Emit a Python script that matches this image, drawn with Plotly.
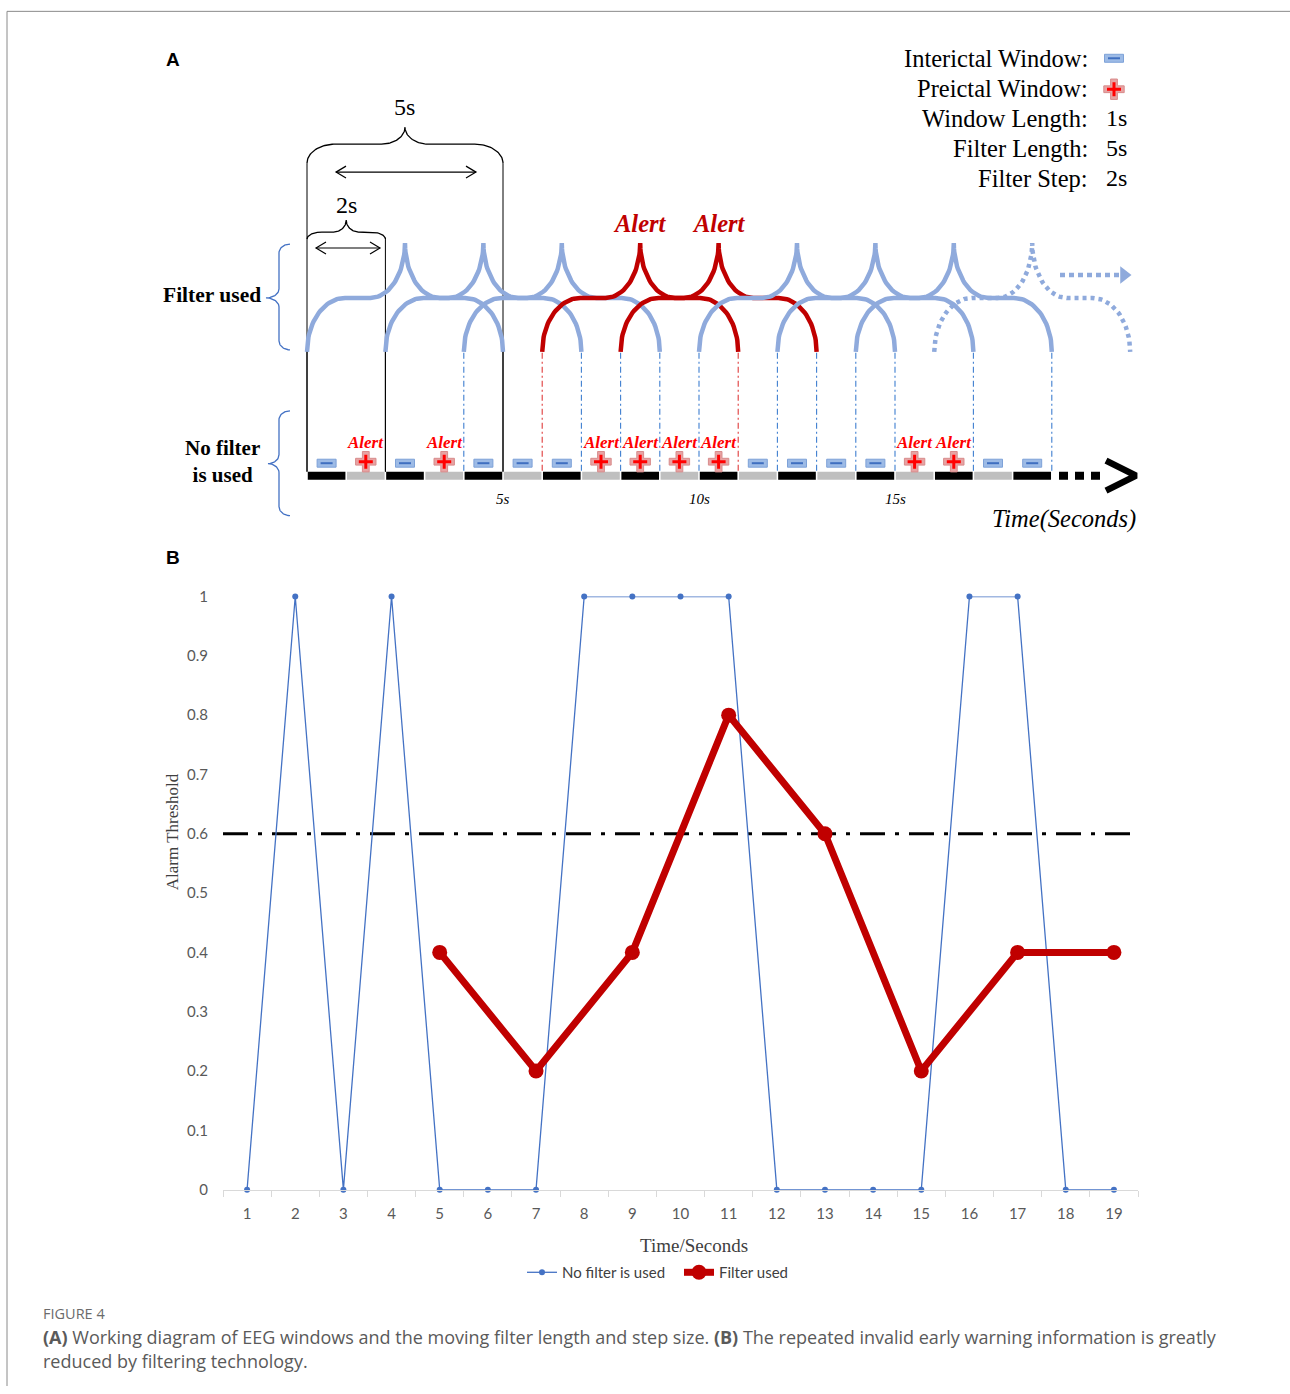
import numpy as np
import plotly.graph_objects as go

# ---------------- data ----------------
seconds = list(range(1, 20))                               # 1 s windows
no_filter = [0, 1, 0, 1, 0, 0, 0, 1, 1, 1, 1, 0, 0, 0, 0, 1, 1, 0, 0]
filter_x = [5, 7, 9, 11, 13, 15, 17, 19]                  # filter end times
filter_vals = [0.4, 0.2, 0.4, 0.8, 0.6, 0.2, 0.4, 0.4]
alarm_threshold = 0.6
y_tick_vals = [0, 0.1, 0.2, 0.3, 0.4, 0.5, 0.6, 0.7, 0.8, 0.9, 1]
y_tick_text = ["0", "0.1", "0.2", "0.3", "0.4", "0.5", "0.6", "0.7", "0.8", "0.9", "1"]
time_marks = [5, 10, 15]
time_mark_text = ["5s", "10s", "15s"]
window_length = 1
filter_length = 5
filter_step = 2
next_filter_end = 21                                       # continuing (dotted) filter
key_labels = ["Interictal Window:", "Preictal Window:", "Window Length:", "Filter Length:", "Filter Step:"]
key_values = ["", "", "1s", "5s", "2s"]

# ---------------- canvas helpers ----------------
W, H = 1290, 1394
X0, PPS = 307.0, 39.2          # pixel of t=0 and pixels per second in panel A
VA, VS = 8.65, 0.9885          # vertical capture compensation (offset, scale)
SERIF = "Liberation Serif"
BLUE_F = "#8FAADC"
RED_F = "#C00000"


def sx(px):
    return (px - X0) / PPS


def pxp(px):
    return px / W


def pyp(py):
    return 1 - ((py - VA) / VS) / H


fig = go.Figure()
shapes = []
annotations = []


def line(xs, ys, color, width, dash=None, sec=True):
    xs = list(xs) if sec else [sx(v) for v in xs]
    fig.add_trace(go.Scatter(x=xs, y=list(ys), mode="lines", xaxis="x2", yaxis="y2",
                             line=dict(color=color, width=width, dash=dash),
                             hoverinfo="skip", showlegend=False))


def hbrace(t0, t1, y_end, y_flat, y_tip, r_arm, r_cusp, n=30):
    tc = (t0 + t1) / 2
    th = np.linspace(0, np.pi / 2, n)
    xa = t0 + r_arm - r_arm * np.cos(th)
    ya = y_end - (y_end - y_flat) * np.sin(th)
    xb = tc - r_cusp + r_cusp * np.sin(th)
    yb = y_tip + (y_flat - y_tip) * np.cos(th)
    lx = np.concatenate([xa, xb])
    ly = np.concatenate([ya, yb])
    rx = (t0 + t1) - lx[::-1]
    ry = ly[::-1]
    return np.concatenate([lx, rx]), np.concatenate([ly, ry])


def vbrace(x_end, x_spine, x_tip, y0, y1, ym, r, n=20):
    th = np.linspace(0, np.pi / 2, n)
    d = x_end - x_spine
    ta_x = x_end - d * np.sin(th); ta_y = y0 + r - r * np.cos(th)
    tu_x = x_tip + (x_spine - x_tip) * np.cos(th); tu_y = ym - r + r * np.sin(th)
    tl_x = x_tip + (x_spine - x_tip) * np.cos(th); tl_y = ym + r - r * np.sin(th)
    bb_x = x_end - d * np.sin(th); bb_y = y1 - r + r * np.cos(th)
    xs = np.concatenate([ta_x, tu_x, tl_x[::-1], bb_x[::-1]])
    ys = np.concatenate([ta_y, tu_y, tl_y[::-1], bb_y[::-1]])
    return [sx(v) for v in xs], ys


def darrow(xa, xb, y, head=10, hh=6, color="black", width=1.2):
    line([xa, xb], [y, y], color, width, sec=False)
    line([xa + head, xa, xa + head], [y - hh, y, y + hh], color, width, sec=False)
    line([xb - head, xb, xb - head], [y - hh, y, y + hh], color, width, sec=False)


def text(px, py, s, size, color="black", family=SERIF, xanchor="center", angle=0):
    annotations.append(dict(x=pxp(px), y=pyp(py), xref="paper", yref="paper", text=s,
                            showarrow=False, xanchor=xanchor, yanchor="middle",
                            font=dict(size=size, color=color, family=family), textangle=angle))


# ---------------- panel A ----------------
# 5s / 2s braces and arrows
bx, by = hbrace(0, filter_length, 162, 143, 126, 0.72, 0.6)
line(bx, by, "black", 1.3)
bx, by = hbrace(0, filter_step, 238, 231, 219, 0.38, 0.32)
line(bx, by, "black", 1.3)
darrow(336, 476, 171)
darrow(316, 380, 247)
text(404, 106, "5s", 24)
text(346, 204, "2s", 24)

# vertical reference lines
line([0, 0], [162, 471], "black", 1)
line([filter_length, filter_length], [162, 471], "black", 1)
line([filter_step, filter_step], [237, 471], "black", 1)

starts = [x - filter_length for x in filter_x]
ends = list(filter_x)
first_alert = next(i for i, v in enumerate(filter_vals) if v >= alarm_threshold)
red_bounds = {starts[first_alert], ends[first_alert]}
for b in sorted(set(starts) | set(ends)):
    if b in (0, filter_step, filter_length):
        line([b, b], [350, 471], "black", 1)
        continue
    col = "#E03C3C" if b in red_bounds else "#3F7FD0"
    line([b, b], [352, 471], col, 1.1, dash="6px,3px,2px,3px")

# filter braces
for xe, v in zip(filter_x, filter_vals):
    col = RED_F if v >= alarm_threshold else BLUE_F
    fx, fy = hbrace(xe - filter_length, xe, 351, 297, 242, 0.97, 0.88)
    line(fx, fy, col, 4.5)
    if v >= alarm_threshold:
        annotations.append(dict(x=xe - filter_length / 2, y=222, xref="x2", yref="y2",
                                text="<b><i>Alert</i></b>", showarrow=False,
                                font=dict(size=24.5, color=RED_F, family=SERIF)))
fx, fy = hbrace(next_filter_end - filter_length, next_filter_end, 351, 297, 242, 0.97, 0.88)
line(fx, fy, BLUE_F, 4.5, dash="4px,4px")
line([sx(1060), sx(1119)], [274, 274], BLUE_F, 4.5, dash="5px,4px")
fig.add_trace(go.Scatter(x=[sx(1124)], y=[274], mode="markers", xaxis="x2", yaxis="y2",
                         marker=dict(symbol="triangle-right", size=15, color=BLUE_F),
                         hoverinfo="skip", showlegend=False))

# timeline
for s in seconds:
    col = "black" if s % 2 == 1 else "#BFBFBF"
    line([s - window_length + 0.02, s - 0.02], [475, 475], col, 8)
line([sx(1059), sx(1104)], [475, 475], "black", 8, dash="9px,7px")
line([sx(1106), sx(1136), sx(1106)], [460, 475, 490], "black", 6.5)

for t, lab in zip(time_marks, time_mark_text):
    annotations.append(dict(x=t, y=498, xref="x2", yref="y2", text="<i>" + lab + "</i>",
                            showarrow=False, font=dict(size=15, color="black", family=SERIF)))
text(1138, 518, "<i>Time(Seconds)</i>", 24.5, xanchor="right")

# window icons


def minus_icon(t, y):
    shapes.append(dict(type="rect", xref="x2", yref="y2", x0=t - 9.5 / PPS, x1=t + 9.5 / PPS,
                       y0=y - 4, y1=y + 4, fillcolor="#9DBBE6", line=dict(color="#7EA2D8", width=1)))
    shapes.append(dict(type="line", xref="x2", yref="y2", x0=t - 6 / PPS, x1=t + 6 / PPS,
                       y0=y, y1=y, line=dict(color="#3F6FC0", width=2)))


plus_x, plus_y = [], []
for s, v in zip(seconds, no_filter):
    c = s - window_length / 2
    if v == 1:
        plus_x.append(c); plus_y.append(461)
        annotations.append(dict(x=c, y=442, xref="x2", yref="y2", text="<b><i>Alert</i></b>",
                                showarrow=False, font=dict(size=17, color="#FF0000", family=SERIF)))
    else:
        minus_icon(c, 462.5)

# key
minus_icon(sx(1114), 57)
plus_x.append(sx(1114)); plus_y.append(88)
fig.add_trace(go.Scatter(x=plus_x, y=plus_y, mode="markers", xaxis="x2", yaxis="y2",
                         marker=dict(symbol="cross", size=17, color="#E7A3A3",
                                     line=dict(color="#D88C8C", width=1)),
                         hoverinfo="skip", showlegend=False))
fig.add_trace(go.Scatter(x=plus_x, y=plus_y, mode="markers", xaxis="x2", yaxis="y2",
                         marker=dict(symbol="cross-thin", size=10, color="#FF0000",
                                     line=dict(color="#FF0000", width=3)),
                         hoverinfo="skip", showlegend=False))
for i, (lab, val) in enumerate(zip(key_labels, key_values)):
    yk = 57 + 30 * i
    text(1090, yk, lab, 24.5, xanchor="right")
    if val:
        text(1104, yk, val, 24, xanchor="left")

# side braces + labels
bxs, bys = vbrace(290, 279, 266, 243, 349, 297, 9)
line(bxs, bys, "#4472C4", 1.3)
bxs, bys = vbrace(290, 279, 268, 410, 515, 463, 9)
line(bxs, bys, "#4472C4", 1.3)
text(212, 294, "<b>Filter used</b>", 21.5)
text(222, 461, "<b>No filter<br>is used</b>", 21)

text(173, 58, "<b>A</b>", 19, family="Liberation Sans")
text(173, 557, "<b>B</b>", 19, family="Liberation Sans")

# ---------------- panel B ----------------
fig.add_trace(go.Scatter(x=seconds, y=no_filter, mode="lines+markers", name="No filter is used",
                         line=dict(color="#4472C4", width=1.3), marker=dict(size=6, color="#4472C4"),
                         cliponaxis=False, xaxis="x", yaxis="y"))
fig.add_trace(go.Scatter(x=filter_x, y=filter_vals, mode="lines+markers", name="Filter used",
                         line=dict(color=RED_F, width=7), marker=dict(size=15, color=RED_F),
                         cliponaxis=False, xaxis="x", yaxis="y"))
shapes.append(dict(type="line", xref="x", yref="y", x0=0.5, x1=19.4, y0=alarm_threshold,
                   y1=alarm_threshold, line=dict(color="black", width=3, dash="25px,10px,4px,10px"),
                   layer="below"))

text(172, 832, "Alarm Threshold", 17, color="#404040", angle=-90)
text(694, 1246, "Time/Seconds", 19, color="#404040")

# caption
text(41, 1314, "FIGURE 4", 14.5, color="#6b6b6b", family="Open Sans", xanchor="left")
text(41, 1338, "<b>(A)</b> Working diagram of EEG windows and the moving filter length and step size. "
     "<b>(B)</b> The repeated invalid early warning information is greatly", 18,
     color="#5a5a5a", family="Open Sans", xanchor="left")
text(41, 1362, "reduced by filtering technology.", 18, color="#5a5a5a", family="Open Sans",
     xanchor="left")

# border
shapes.append(dict(type="line", xref="paper", yref="paper", x0=pxp(7), x1=1, y0=pyp(10), y1=pyp(10),
                   line=dict(color="#8a8a8a", width=1)))
shapes.append(dict(type="line", xref="paper", yref="paper", x0=pxp(7), x1=pxp(7), y0=pyp(10), y1=0,
                   line=dict(color="#8a8a8a", width=1)))

fig.update_layout(
    width=W, height=H, margin=dict(l=0, r=0, t=0, b=0),
    paper_bgcolor="white", plot_bgcolor="rgba(0,0,0,0)",
    shapes=shapes, annotations=annotations,
    xaxis=dict(domain=[pxp(223), pxp(1138)], range=[0.5, 19.5], anchor="y",
               tickmode="array", tickvals=seconds, ticks="", showgrid=False, zeroline=False,
               showline=True, linecolor="#D9D9D9", linewidth=1, ticklabelstandoff=10,
               tickfont=dict(family="Lato", size=15, color="#595959"),
               minor=dict(tickmode="array", tickvals=[s - 0.5 for s in seconds] + [19.5],
                          ticks="outside", ticklen=6, tickcolor="#D9D9D9", showgrid=False)),
    yaxis=dict(domain=[pyp(1190), pyp(596)], range=[0, 1], anchor="x",
               tickmode="array", tickvals=y_tick_vals, ticktext=y_tick_text, ticks="",
               showgrid=False, zeroline=False, showline=False, ticklabelstandoff=14,
               tickfont=dict(family="Lato", size=15, color="#595959")),
    xaxis2=dict(domain=[0, 1], range=[sx(0), sx(W)], anchor="y2", visible=False),
    yaxis2=dict(domain=[0, 1], range=[VA + VS * H, VA], anchor="x2", visible=False),
    showlegend=True,
    legend=dict(orientation="h", x=pxp(522), y=pyp(1273), xanchor="left", yanchor="middle",
                font=dict(family="Lato", size=15, color="#404040"), bgcolor="rgba(0,0,0,0)",
                itemwidth=30, entrywidth=112, entrywidthmode="pixels"),
)

post = (
    "document.documentElement.style.margin='0';"
    "document.documentElement.style.overflow='hidden';"
    "document.body.style.margin='0';document.body.style.padding='0';"
    "document.body.style.overflow='hidden';"
    "var d=document.querySelector('.plotly-graph-div');"
    "if(d){d.style.position='fixed';d.style.left='0px';d.style.top='0px';}"
)
fig.write_html("out.html", config={"displayModeBar": False}, post_script=post)
